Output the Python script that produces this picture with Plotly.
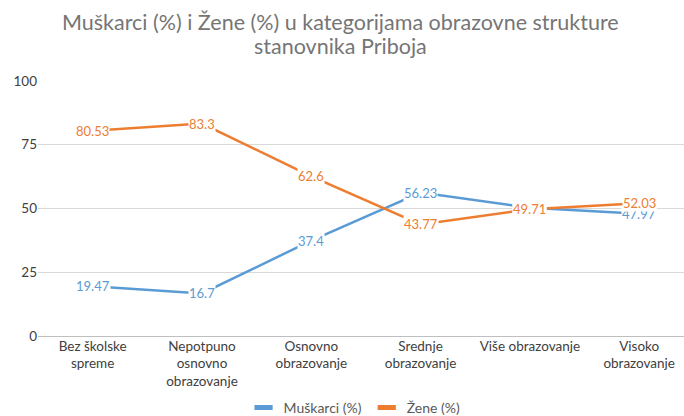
import plotly.graph_objects as go

categories = ["Bez školske<br>spreme", "Nepotpuno<br>osnovno<br>obrazovanje", "Osnovno<br>obrazovanje",
              "Srednje<br>obrazovanje", "Više obrazovanje", "Visoko<br>obrazovanje"]
muskarci = [19.47, 16.7, 37.4, 56.23, 50.29, 47.97]
zene = [80.53, 83.3, 62.6, 43.77, 49.71, 52.03]
y_ticks = [0, 25, 50, 75, 100]
series_names = ["Muškarci (%)", "Žene (%)"]
title_lines = ["Muškarci (%) i Žene (%) u kategorijama obrazovne strukture", "stanovnika Priboja"]

blue = "#5B9BD5"
orange = "#ED7D31"
font_family = "Lato, Carlito, 'Open Sans', sans-serif"

fig = go.Figure()
for name, vals, color in ((series_names[0], muskarci, blue), (series_names[1], zene, orange)):
    fig.add_trace(go.Scatter(x=categories, y=vals, mode="lines", name=name, showlegend=False,
                             line=dict(color=color, width=2.5)))
for name, color in ((series_names[0], blue), (series_names[1], orange)):
    fig.add_trace(go.Scatter(x=[None], y=[None], mode="markers", name=name, showlegend=True,
                             marker=dict(symbol="line-ew", size=13, color=color,
                                         line=dict(width=5, color=color))))

annotations = []
for series, color in ((muskarci, blue), (zene, orange)):
    for c, v in zip(categories, series):
        annotations.append(dict(x=c, y=v, xref="x", yref="y", text=f"{v:g}", showarrow=False,
                                font=dict(color=color, size=13, family=font_family),
                                bgcolor="white", borderpad=0, xanchor="center", yanchor="middle"))

# title as two lines with tighter line spacing
for line, ypos in zip(title_lines, (1.231, 1.137)):
    annotations.append(dict(x=0.4675, y=ypos, xref="paper", yref="paper", text=line, showarrow=False,
                            xanchor="center", yanchor="middle",
                            font=dict(size=21.5, color="#757575", family=font_family)))

fig.update_layout(
    width=684, height=416,
    margin=dict(l=38, r=0, t=81, b=80, autoexpand=False),
    paper_bgcolor="white", plot_bgcolor="white",
    font=dict(family=font_family, color="#595959", size=13),
    showlegend=True,
    legend=dict(orientation="h", x=0.49, xanchor="center", y=-0.282, yanchor="middle",
                font=dict(size=14, color="#595959"), itemwidth=30, tracegroupgap=0),
    annotations=annotations,
    xaxis=dict(type="category", range=[-0.5, 5.41], showgrid=False, showline=False,
               ticks="", automargin=False, tickfont=dict(size=13.5, color="#404040")),
    yaxis=dict(range=[0, 100], tickvals=y_ticks, showgrid=True, gridcolor="#d9d9d9", gridwidth=1,
               zeroline=True, zerolinecolor="#bfbfbf", zerolinewidth=1, showline=False, ticks="",
               automargin=False, tickfont=dict(size=13.5, color="#404040")),
)

# remove the page's default body margin so the figure sits at the window's top-left corner
fig.write_html("out.html", config={"displayModeBar": False},
               post_script="document.body.style.margin='0';")
